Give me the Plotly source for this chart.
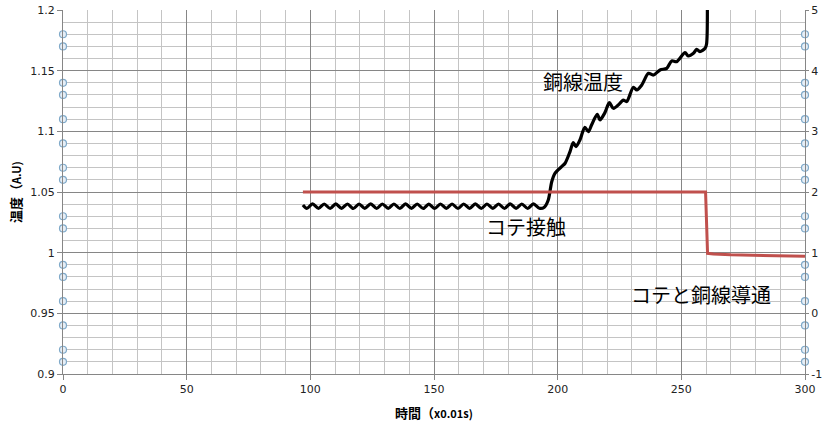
import plotly.graph_objects as go

# --- data ---
temp_x = [97.0, 98.6, 100.9, 103.3, 105.6, 108.0, 110.3, 112.6, 115.0, 117.4, 119.7, 122.0,
          124.4, 126.8, 129.1, 131.5, 133.8, 136.2, 138.5, 140.9, 143.2, 145.6, 147.9, 150.3,
          152.6, 155.0, 157.3, 159.7, 162.0, 164.4, 166.7, 169.1, 171.4, 173.8, 176.1, 178.5,
          180.8, 183.2, 185.5, 187.9, 190.2, 192.6, 194.6, 196.2, 197.6, 198.9, 201.6, 203.0,
          205.0, 206.3, 207.4, 209.0, 211.0, 212.4, 213.7, 216.0, 217.1, 219.1, 220.9, 222.5,
          225.2, 226.5, 227.9, 230.6, 232.0, 234.0, 236.7, 238.7, 241.4, 244.1, 246.1, 248.1,
          251.5, 252.8, 254.9, 256.2, 257.5, 259.6, 260.2, 260.3]
temp_y = [1.0392, 1.0364, 1.0402, 1.0365, 1.0401, 1.0364, 1.0402, 1.0365, 1.0401, 1.0364, 1.0401, 1.0365,
          1.0402, 1.0364, 1.0401, 1.0365, 1.0401, 1.0364, 1.0402, 1.0365, 1.0401, 1.0364, 1.0400, 1.0364,
          1.0401, 1.0365, 1.0401, 1.0364, 1.0401, 1.0365, 1.0402, 1.0364, 1.0401, 1.0365, 1.0401, 1.0364,
          1.0402, 1.0365, 1.0401, 1.0364, 1.0402, 1.0366, 1.0375, 1.0434, 1.0585, 1.0654, 1.0709, 1.0737,
          1.0833, 1.0907, 1.0874, 1.0929, 1.1033, 1.0997, 1.1052, 1.1140, 1.1094, 1.1154, 1.1236, 1.1190,
          1.1231, 1.1258, 1.1245, 1.1363, 1.1341, 1.1382, 1.1478, 1.1464, 1.1506, 1.1519, 1.1580, 1.1574,
          1.1648, 1.1621, 1.1643, 1.1676, 1.1657, 1.1684, 1.1720, 1.2500]

contact_x = [97, 259.8, 260.6, 263, 270, 280, 290, 292, 300]
contact_y = [2.0, 2.0, 0.99, 0.98, 0.965, 0.96, 0.95, 0.955, 0.94]

left_marks_y = [1.18, 1.17, 1.14, 1.13, 1.11, 1.09, 1.07, 1.06, 1.03, 1.02, 0.99, 0.98, 0.96, 0.94, 0.92, 0.91]
right_marks_y = [4.6, 4.4, 3.8, 3.6, 3.2, 2.8, 2.4, 2.2, 1.6, 1.4, 0.8, 0.6, 0.2, -0.2, -0.6, -0.8]

x_ticks = [0, 50, 100, 150, 200, 250, 300]
y_ticks = [0.9, 0.95, 1.0, 1.05, 1.1, 1.15, 1.2]
y_tick_text = ["0.9", "0.95", "1", "1.05", "1.1", "1.15", "1.2"]
y2_ticks = [-1, 0, 1, 2, 3, 4, 5]
y2_tick_text = ["-1", "0", "1", "2", "3", "4", "5"]

labels = ["銅線温度", "コテ接触", "コテと銅線導通"]
label_x = [210.2, 187.2, 258.0]
label_y = [1.1407, 1.0212, 0.9652]

MAJOR = "#868686"
MINOR = "#c4c4c4"
TICKFONT = dict(family="DejaVu Sans", size=11, color="#222222")

fig = go.Figure()

fig.add_trace(go.Scatter(
    x=contact_x, y=contact_y, yaxis="y2", mode="lines",
    line=dict(color="#c0504d", width=3), showlegend=False))

fig.add_trace(go.Scatter(
    x=temp_x, y=temp_y, mode="lines",
    line=dict(color="#000000", width=3.2, shape="spline", smoothing=0.8), showlegend=False))

fig.add_trace(go.Scatter(
    x=[0] * len(left_marks_y), y=left_marks_y, mode="markers", cliponaxis=False,
    marker=dict(symbol="circle", size=7, color="#e6eef6", line=dict(color="#7fa9c9", width=1.2)),
    showlegend=False))

fig.add_trace(go.Scatter(
    x=[300] * len(right_marks_y), y=right_marks_y, yaxis="y2", mode="markers", cliponaxis=False,
    marker=dict(symbol="circle", size=7, color="#e6eef6", line=dict(color="#7fa9c9", width=1.2)),
    showlegend=False))

annotations = []
for t, ax_, ay_ in zip(labels, label_x, label_y):
    annotations.append(dict(x=ax_, y=ay_, xref="x", yref="y", text=t, showarrow=False,
                            font=dict(family="Noto Sans CJK JP", size=20, color="#000000"),
                            xanchor="center", yanchor="middle"))

annotations.append(dict(
    x=0.5, y=-0.107, xref="paper", yref="paper", showarrow=False,
    text="<b>時間（<span style='font-size:11px'>x0.01s)</span></b>",
    font=dict(family="Noto Sans CJK JP", size=13, color="#000000"),
    xanchor="center", yanchor="middle"))
annotations.append(dict(
    x=-0.0647, y=0.5, xref="paper", yref="paper", showarrow=False, textangle=-90,
    text="<b>温度（<span style='font-size:11px'>A.U)</span></b>",
    font=dict(family="Noto Sans CJK JP", size=13, color="#000000"),
    xanchor="center", yanchor="middle"))

fig.update_layout(
    width=826, height=424,
    margin=dict(l=63, r=21, t=10, b=50),
    paper_bgcolor="white", plot_bgcolor="white",
    xaxis=dict(range=[0, 300], tickvals=x_ticks, showgrid=True, gridcolor=MAJOR, gridwidth=1,
               minor=dict(dtick=10, showgrid=True, gridcolor=MINOR, gridwidth=1),
               showline=True, linecolor=MAJOR, linewidth=1, automargin=False,
               ticks="outside", ticklen=5, tickcolor=MAJOR, tickfont=TICKFONT,
               zeroline=False, fixedrange=True),
    yaxis=dict(range=[0.9, 1.2], tickvals=y_ticks, ticktext=y_tick_text, showgrid=True,
               gridcolor=MAJOR, gridwidth=1,
               minor=dict(dtick=0.01, tick0=0.9, showgrid=True, gridcolor=MINOR, gridwidth=1),
               showline=True, linecolor=MAJOR, linewidth=1, automargin=False,
               ticks="outside", ticklen=5, tickcolor=MAJOR, tickfont=TICKFONT,
               zeroline=False, fixedrange=True),
    yaxis2=dict(range=[-1, 5], tickvals=y2_ticks, ticktext=y2_tick_text, overlaying="y", side="right",
                showgrid=False, showline=True, linecolor=MAJOR, linewidth=1, automargin=False,
                ticks="outside", ticklen=3, tickcolor=MAJOR, tickfont=TICKFONT,
                zeroline=False, fixedrange=True),
    annotations=annotations,
)

fig.write_html("out.html", config={"displayModeBar": False},
               post_script="document.body.style.margin='0';document.body.style.overflow='hidden';")
